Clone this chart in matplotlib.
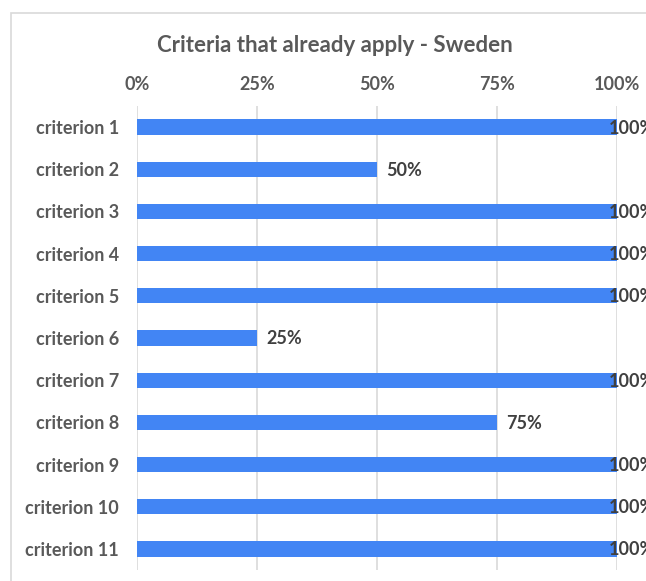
import matplotlib.pyplot as plt
from matplotlib.patches import Rectangle
from matplotlib.ticker import FuncFormatter

criteria = [f"criterion {i}" for i in range(1, 12)]
values = [100, 50, 100, 100, 100, 25, 100, 75, 100, 100, 100]
ticks = [0, 25, 50, 75, 100]

BLUE = "#4285F4"
GRAY = "#595959"
DARK = "#404040"

plt.rcParams["font.family"] = ["Lato", "DejaVu Sans"]

W, H = 646, 581
fig = plt.figure(figsize=(W / 100, H / 100), dpi=100)

# chart frame (right and bottom edges fall outside the picture)
fig.patches.append(Rectangle((11 / W, -0.1), 1.2, 1.1 - 13 / H, transform=fig.transFigure,
                             fill=False, edgecolor="#D9D9D9", linewidth=1.2))

ax = fig.add_axes([137 / W, 1 - 570 / H, 480 / W, 464 / H])
y = list(range(len(criteria)))
ax.barh(y, values, height=0.36, color=BLUE)
ax.set_ylim(len(criteria) - 0.5, -0.5)
ax.set_xlim(0, 100)
ax.set_xticks(ticks)
ax.xaxis.set_major_formatter(FuncFormatter(lambda v, _: f"{v:.0f}%"))
ax.xaxis.tick_top()
ax.set_yticks(y)
ax.set_yticklabels(criteria)
ax.tick_params(axis="both", length=0, labelsize=13, colors=GRAY)
ax.tick_params(axis="x", pad=9)
ax.tick_params(axis="y", pad=13)
for lab in ax.get_xticklabels() + ax.get_yticklabels():
    lab.set_fontweight("bold")
ax.grid(axis="x", color="#D9D9D9", linewidth=1.2)
ax.set_axisbelow(True)
for s in ax.spines.values():
    s.set_visible(False)

for yi, v in zip(y, values):
    off = -8 if v >= 100 else 9
    ax.annotate(f"{v}%", (v, yi), xytext=(off, -1), textcoords="offset pixels",
                va="center", ha="left", fontsize=13, fontweight="bold",
                color=DARK, annotation_clip=False)

fig.text(335 / W, 1 - 45 / H, "Criteria that already apply - Sweden", ha="center", va="center",
         fontsize=16, fontweight="bold", color=GRAY)

fig.savefig("out.png", dpi=100)
